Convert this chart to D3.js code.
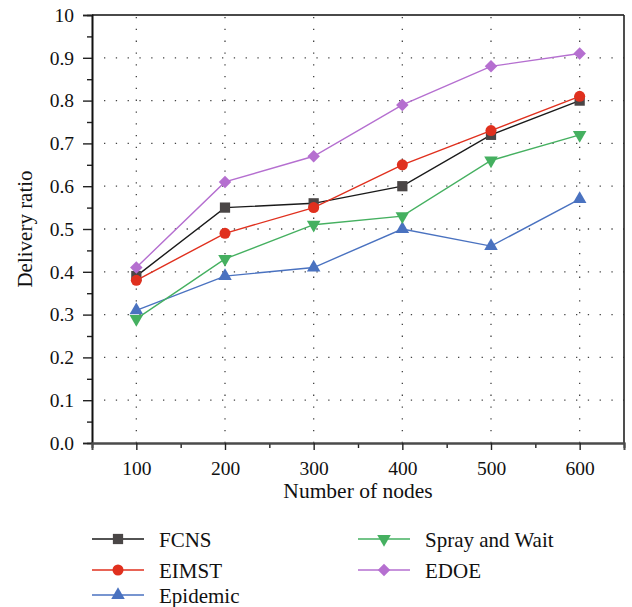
<!DOCTYPE html>
<html>
<head>
<meta charset="utf-8">
<script src="https://cdn.jsdelivr.net/npm/d3@7"></script>
<style>
  body { margin: 0; background: #fff; }
  svg { display: block; }
</style>
</head>
<body>
<svg id="chart" width="632" height="607"></svg>
<script>
// Number of nodes on the x axis
const nodes = [100, 200, 300, 400, 500, 600];

// Delivery ratio per protocol
const fcns      = [0.39, 0.55, 0.56, 0.60, 0.72, 0.80];
const eimst     = [0.38, 0.49, 0.55, 0.65, 0.73, 0.81];
const epidemic  = [0.31, 0.39, 0.41, 0.50, 0.46, 0.57];
const sprayWait = [0.29, 0.43, 0.51, 0.53, 0.66, 0.72];
const edoe      = [0.41, 0.61, 0.67, 0.79, 0.88, 0.91];

// Axis tick labels (the top label is printed as "10")
const yTickValues = [0, 0.1, 0.2, 0.3, 0.4, 0.5, 0.6, 0.7, 0.8, 0.9, 1.0];
const yTickLabels = ["0.0", "0.1", "0.2", "0.3", "0.4", "0.5", "0.6", "0.7", "0.8", "0.9", "10"];
const xTickValues = [100, 200, 300, 400, 500, 600];

const FONT = "'Liberation Serif', 'Times New Roman', serif";

const series = [
  { name: "FCNS",           values: fcns,      line: "#1a1a1a", fill: "#4a4646", symbol: d3.symbolSquare,   size: 105, rot: 0 },
  { name: "EIMST",          values: eimst,     line: "#e0301e", fill: "#e0301e", symbol: d3.symbolCircle,   size: 95,  rot: 0 },
  { name: "Epidemic",       values: epidemic,  line: "#4a72c0", fill: "#4a72c0", symbol: d3.symbolTriangle, size: 80,  rot: 0 },
  { name: "Spray and Wait", values: sprayWait, line: "#45b060", fill: "#45b060", symbol: d3.symbolTriangle, size: 80,  rot: 180 },
  { name: "EDOE",           values: edoe,      line: "#b56fd0", fill: "#b56fd0", symbol: d3.symbolSquare,   size: 78,  rot: 45 }
];

const svg = d3.select("#chart");
const plotL = 92, plotR = 624, plotT = 15, plotB = 443;

const x = d3.scaleLinear().domain([50, 650]).range([plotL, plotR]);
const y = d3.scaleLinear().domain([0, 1]).range([plotB, plotT]);

// Dotted grid
const grid = svg.append("g").attr("stroke", "#444").attr("stroke-width", 1.3)
  .attr("stroke-dasharray", "1.3,10.5");
grid.selectAll("line.h").data(yTickValues.slice(1, -1)).join("line").attr("class", "h")
  .attr("x1", plotL + 12).attr("x2", plotR)
  .attr("y1", d => y(d)).attr("y2", d => y(d));
grid.selectAll("line.v").data(xTickValues).join("line").attr("class", "v")
  .attr("x1", d => x(d)).attr("x2", d => x(d))
  .attr("y1", plotT + 2).attr("y2", plotB);

// Frame: top and right edges
svg.append("line").attr("x1", plotL).attr("x2", plotR).attr("y1", plotT).attr("y2", plotT)
  .attr("stroke", "#4a4a4a").attr("stroke-width", 2);
svg.append("line").attr("x1", plotR).attr("x2", plotR).attr("y1", plotT).attr("y2", plotB)
  .attr("stroke", "#222").attr("stroke-width", 1.6);

// Y axis with minor ticks
const yAxisG = svg.append("g").attr("transform", `translate(${plotL},0)`);
yAxisG.call(d3.axisLeft(y).tickValues(d3.range(0.05, 1, 0.1)).tickSize(5).tickFormat(""));
yAxisG.append("g").call(d3.axisLeft(y).tickValues(yTickValues).tickSize(9)
  .tickFormat((d, i) => yTickLabels[i]).tickPadding(9));
yAxisG.selectAll(".domain").attr("stroke", "#111").attr("stroke-width", 1.6);
yAxisG.selectAll(".tick line").attr("stroke", "#222").attr("stroke-width", 1.4);
yAxisG.selectAll("text").style("font-family", FONT).style("font-size", "19.5px").attr("fill", "#111");

// X axis with minor ticks
const xAxisG = svg.append("g").attr("transform", `translate(0,${plotB})`);
xAxisG.call(d3.axisBottom(x).tickValues([150, 250, 350, 450, 550]).tickSize(5).tickFormat(""));
xAxisG.append("g").call(d3.axisBottom(x).tickValues(xTickValues).tickSize(7)
  .tickFormat(d3.format("d")).tickPadding(11));
xAxisG.selectAll(".domain").attr("stroke", "#4a4a4a").attr("stroke-width", 2);
xAxisG.selectAll(".tick line").attr("stroke", "#222").attr("stroke-width", 1.4);
xAxisG.selectAll("text").style("font-family", FONT).style("font-size", "19.5px").attr("fill", "#111");

// Axis titles
svg.append("text").attr("x", 358).attr("y", 498).attr("text-anchor", "middle")
  .style("font-family", FONT).style("font-size", "21.5px").attr("fill", "#111").text("Number of nodes");
svg.append("text").attr("transform", "translate(32,229) rotate(-90)").attr("text-anchor", "middle")
  .style("font-family", FONT).style("font-size", "21px").attr("fill", "#111").text("Delivery ratio");

// Lines and markers
const lineGen = d3.line().x((d, i) => x(nodes[i])).y(d => y(d));
series.forEach(s => {
  const g = svg.append("g");
  g.append("path").datum(s.values).attr("d", lineGen)
    .attr("fill", "none").attr("stroke", s.line).attr("stroke-width", 1.4);
  g.selectAll("path.m").data(s.values).join("path").attr("class", "m")
    .attr("d", d3.symbol().type(s.symbol).size(s.size))
    .attr("transform", (d, i) => `translate(${x(nodes[i])},${y(d)}) rotate(${s.rot})`)
    .attr("fill", s.fill);
});

// Legend
const legendPos = [
  { lx: 92, ly: 539 }, { lx: 92, ly: 570 }, { lx: 92, ly: 595 },
  { lx: 358, ly: 539 }, { lx: 358, ly: 570 }
];
series.forEach((s, i) => {
  const p = legendPos[i];
  const g = svg.append("g").attr("transform", `translate(${p.lx},${p.ly})`);
  g.append("line").attr("x1", 0).attr("x2", 52).attr("y1", 0).attr("y2", 0)
    .attr("stroke", s.line).attr("stroke-width", 1.4);
  g.append("path").attr("d", d3.symbol().type(s.symbol).size(s.size))
    .attr("transform", `translate(26,0) rotate(${s.rot})`).attr("fill", s.fill);
  g.append("text").attr("x", 67).attr("y", 7.5).style("font-family", FONT).style("font-size", "21px")
    .attr("fill", "#111").text(s.name);
});
</script>
</body>
</html>
